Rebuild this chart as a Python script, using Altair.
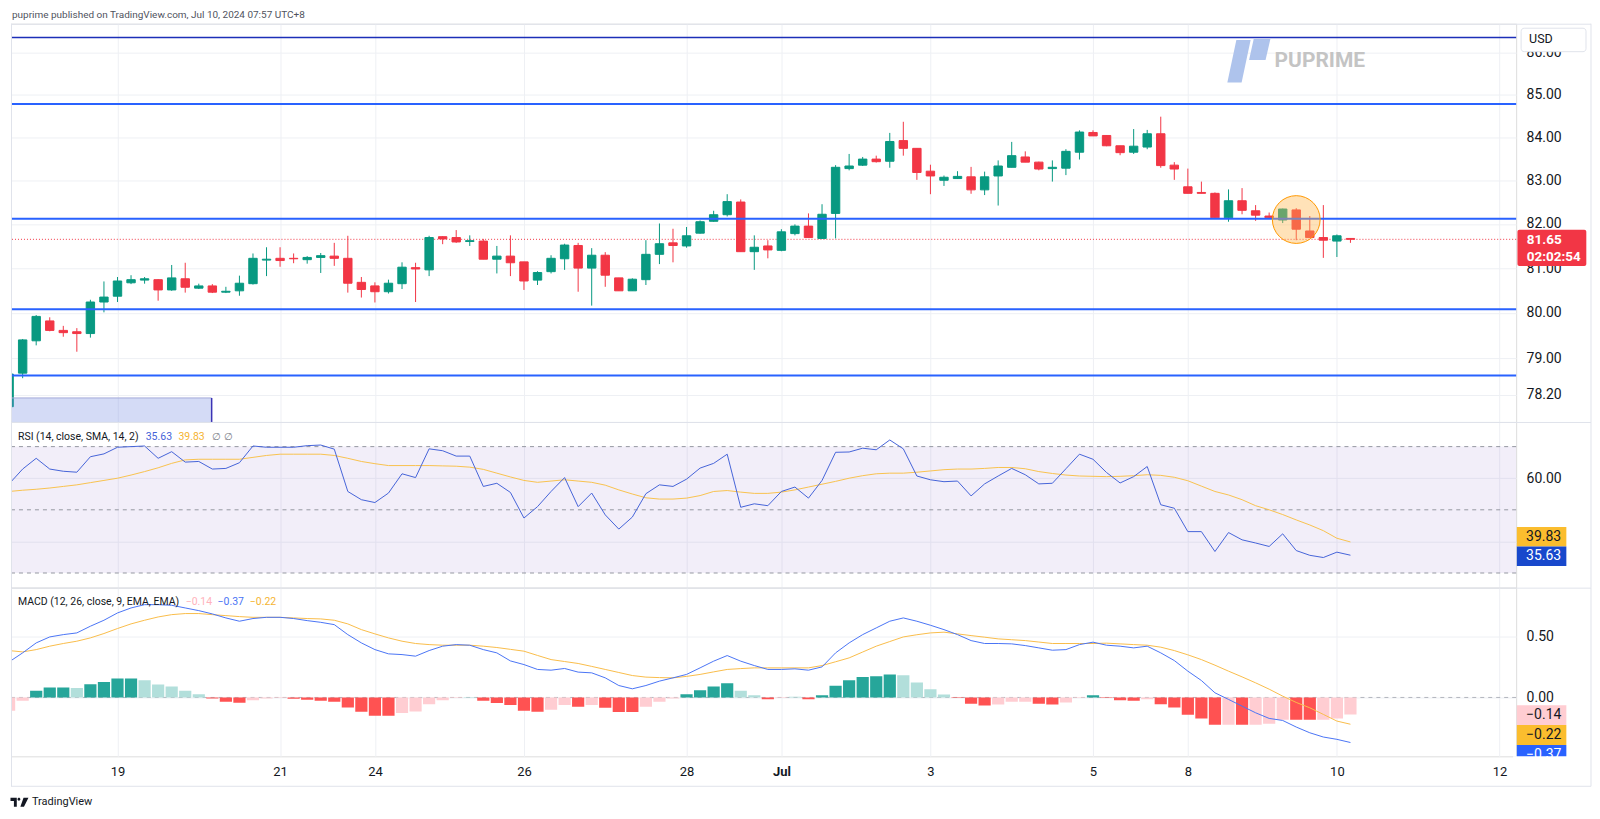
import json
import altair as alt
import pandas as pd

# ---------------- data (price axis is logarithmic) ----------------
opens = [77.94, 78.67, 79.38, 79.82, 79.61, 79.58, 79.54, 80.24, 80.37, 80.67,
 80.73, 80.74, 80.51, 80.76, 80.55, 80.60, 80.46, 80.49, 80.65, 81.18,
 81.22, 81.22, 81.19, 81.24, 81.27, 81.22, 80.68, 80.60, 80.47, 80.65,
 81.01, 80.96, 81.71, 81.69, 81.60, 81.61, 81.20, 81.27, 81.14, 80.73,
 80.92, 81.21, 81.51, 81.00, 81.29, 80.78, 80.49, 80.74, 81.31, 81.57,
 81.50, 81.79, 82.06, 82.21, 82.50, 81.37, 81.50, 81.40, 81.78, 81.95,
 81.67, 82.24, 83.27, 83.35, 83.49, 83.44, 83.92, 83.74, 83.21, 83.00,
 83.04, 83.08, 82.78, 83.10, 83.30, 83.54, 83.42, 83.27, 83.28, 83.65,
 84.11, 84.04, 83.80, 83.65, 83.77, 84.08, 83.35, 82.85, 82.72, 82.70,
 82.14, 82.53, 82.30, 82.18, 82.09, 82.32, 81.84, 81.69, 81.61, 81.67]
highs = [78.71, 79.42, 79.95, 79.90, 79.71, 79.66, 80.29, 80.70, 80.80, 80.84,
 80.80, 80.75, 81.07, 81.12, 80.65, 80.64, 80.58, 80.83, 81.33, 81.47,
 81.47, 81.33, 81.27, 81.34, 81.57, 81.73, 80.80, 80.68, 80.74, 81.13,
 81.12, 81.73, 81.72, 81.86, 81.74, 81.66, 81.50, 81.74, 81.14, 80.93,
 81.29, 81.55, 81.57, 81.45, 81.36, 80.78, 80.77, 81.63, 82.01, 81.89,
 81.93, 82.08, 82.30, 82.68, 82.56, 81.74, 81.63, 81.88, 81.99, 82.24,
 82.45, 83.35, 83.61, 83.54, 83.57, 84.10, 84.36, 83.74, 83.36, 83.11,
 83.21, 83.31, 83.20, 83.46, 83.89, 83.67, 83.43, 83.46, 83.72, 84.16,
 84.16, 84.05, 83.80, 84.19, 84.17, 84.48, 83.42, 83.27, 82.97, 82.72,
 82.79, 82.82, 82.43, 82.26, 82.35, 82.36, 82.18, 82.43, 81.76, 81.67]
lows = [77.89, 78.56, 79.28, 79.59, 79.47, 79.14, 79.45, 80.01, 80.24, 80.64,
 80.65, 80.27, 80.49, 80.45, 80.53, 80.44, 80.44, 80.38, 80.63, 80.82,
 81.03, 81.11, 81.10, 80.89, 81.05, 80.45, 80.34, 80.23, 80.43, 80.53,
 80.24, 80.82, 81.54, 81.57, 81.50, 81.20, 80.88, 80.82, 80.51, 80.62,
 80.88, 80.96, 80.47, 80.16, 80.58, 80.49, 80.49, 80.62, 81.09, 81.13,
 81.46, 81.78, 82.05, 82.17, 81.37, 80.96, 81.22, 81.38, 81.74, 81.69,
 81.66, 81.67, 83.23, 83.33, 83.41, 83.29, 83.57, 83.01, 82.68, 82.87,
 83.03, 82.69, 82.66, 82.42, 83.30, 83.42, 83.23, 82.97, 83.12, 83.48,
 84.03, 83.79, 83.58, 83.61, 83.72, 83.29, 83.01, 82.70, 82.70, 82.14,
 82.05, 82.22, 82.07, 82.13, 82.02, 81.63, 81.69, 81.23, 81.25, 81.57]
closes = [78.65, 79.40, 79.92, 79.61, 79.56, 79.54, 80.24, 80.35, 80.71, 80.74,
 80.76, 80.51, 80.78, 80.57, 80.60, 80.46, 80.48, 80.66, 81.22, 81.20,
 81.17, 81.21, 81.24, 81.28, 81.22, 80.66, 80.52, 80.47, 80.66, 81.02,
 80.98, 81.69, 81.66, 81.59, 81.62, 81.20, 81.27, 81.12, 80.71, 80.90,
 81.22, 81.52, 81.00, 81.29, 80.84, 80.49, 80.75, 81.31, 81.55, 81.51,
 81.73, 82.05, 82.21, 82.51, 81.37, 81.47, 81.41, 81.82, 81.95, 81.69,
 82.22, 83.30, 83.33, 83.49, 83.43, 83.90, 83.74, 83.18, 83.10, 83.07,
 83.09, 82.78, 83.08, 83.33, 83.57, 83.42, 83.26, 83.30, 83.67, 84.12,
 84.03, 83.80, 83.64, 83.79, 84.08, 83.34, 83.26, 82.70, 82.70, 82.14,
 82.53, 82.31, 82.20, 82.14, 82.34, 81.88, 81.69, 81.63, 81.73, 81.65]

rsi_vals = [58.2, 62.9, 66.3, 62.9, 62.2, 61.9, 66.8, 67.7, 69.8, 70.0,
 70.2, 66.3, 68.4, 65.1, 65.3, 62.9, 63.1, 64.9, 70.2, 69.8,
 69.8, 69.8, 70.3, 70.5, 69.2, 55.8, 53.2, 52.3, 55.3, 61.4,
 60.2, 69.3, 68.7, 67.0, 67.0, 57.4, 58.4, 55.5, 47.4, 51.0,
 55.8, 60.2, 51.0, 55.3, 48.4, 43.9, 47.7, 55.1, 57.9, 57.4,
 59.7, 63.2, 64.7, 67.6, 50.8, 51.9, 51.3, 55.8, 57.2, 53.7,
 59.3, 68.2, 68.3, 69.5, 69.0, 72.1, 69.3, 60.7, 59.5, 58.9,
 59.1, 54.4, 58.2, 60.7, 63.1, 61.1, 58.2, 58.4, 63.0, 67.6,
 66.0, 61.8, 58.5, 60.5, 63.7, 51.6, 50.5, 43.1, 43.1, 36.8,
 42.8, 40.5, 39.5, 38.4, 42.4, 37.1, 35.6, 34.9, 36.6, 35.63]
rsi_ma_vals = [55.8, 56.2, 56.5, 56.9, 57.4, 57.9, 58.6, 59.3, 60.0, 61.0,
 62.1, 63.3, 64.7, 65.8, 66.0, 66.0, 66.0, 66.0, 66.6, 67.2,
 67.6, 67.6, 67.6, 67.6, 67.2, 66.3, 65.3, 64.6, 64.0, 64.0,
 64.0, 64.0, 63.9, 63.8, 63.5, 62.8, 61.6, 60.4, 59.3, 58.7,
 59.1, 59.5, 59.1, 58.7, 57.8, 56.3, 55.0, 53.8, 53.4, 53.4,
 53.7, 54.5, 55.8, 56.1, 55.6, 55.2, 55.2, 55.6, 56.3, 57.2,
 58.1, 59.0, 60.0, 60.8, 61.4, 61.6, 61.6, 61.9, 62.3, 62.7,
 62.9, 62.9, 63.1, 63.4, 63.4, 63.0, 62.1, 61.5, 61.0, 60.7,
 60.6, 60.5, 60.6, 60.8, 61.1, 60.9, 60.3, 59.2, 57.5, 55.8,
 54.7, 53.2, 51.3, 50.0, 48.5, 46.8, 45.2, 43.4, 41.0, 39.83]

macd_vals = [0.292, 0.366, 0.448, 0.497, 0.516, 0.530, 0.585, 0.634, 0.694, 0.735,
 0.762, 0.762, 0.757, 0.735, 0.713, 0.686, 0.653, 0.626, 0.648, 0.658,
 0.658, 0.648, 0.631, 0.617, 0.598, 0.516, 0.448, 0.393, 0.358, 0.352,
 0.339, 0.385, 0.421, 0.434, 0.429, 0.393, 0.366, 0.300, 0.270, 0.230,
 0.224, 0.238, 0.208, 0.202, 0.161, 0.098, 0.071, 0.098, 0.134, 0.161,
 0.189, 0.243, 0.298, 0.344, 0.298, 0.262, 0.230, 0.230, 0.235, 0.224,
 0.251, 0.366, 0.448, 0.516, 0.571, 0.626, 0.653, 0.626, 0.593, 0.557,
 0.516, 0.467, 0.443, 0.443, 0.440, 0.426, 0.407, 0.388, 0.393, 0.434,
 0.454, 0.429, 0.421, 0.407, 0.421, 0.366, 0.303, 0.216, 0.139, 0.038,
 -0.016, -0.071, -0.126, -0.172, -0.189, -0.243, -0.290, -0.325, -0.344, -0.37]
signal_vals = [0.385, 0.374, 0.393, 0.421, 0.443, 0.462, 0.489, 0.525, 0.566, 0.604,
 0.634, 0.661, 0.680, 0.689, 0.689, 0.680, 0.672, 0.664, 0.658, 0.658,
 0.658, 0.653, 0.648, 0.645, 0.634, 0.604, 0.557, 0.522, 0.489, 0.462,
 0.443, 0.434, 0.429, 0.429, 0.429, 0.421, 0.410, 0.395, 0.380, 0.345,
 0.311, 0.295, 0.279, 0.255, 0.230, 0.205, 0.180, 0.167, 0.163, 0.161,
 0.173, 0.189, 0.210, 0.230, 0.237, 0.243, 0.243, 0.243, 0.243, 0.243,
 0.262, 0.293, 0.325, 0.373, 0.421, 0.459, 0.497, 0.515, 0.530, 0.536,
 0.522, 0.508, 0.495, 0.481, 0.474, 0.467, 0.455, 0.443, 0.443, 0.443,
 0.443, 0.446, 0.440, 0.434, 0.429, 0.413, 0.385, 0.350, 0.311, 0.265,
 0.216, 0.169, 0.120, 0.068, 0.011, -0.041, -0.085, -0.139, -0.194, -0.22]
hist_vals = [-0.110, -0.027, 0.055, 0.082, 0.082, 0.077, 0.109, 0.126, 0.156, 0.156,
 0.142, 0.107, 0.090, 0.055, 0.027, -0.008, -0.036, -0.044, -0.022, -0.008,
 -0.005, -0.010, -0.019, -0.027, -0.036, -0.082, -0.117, -0.150, -0.150, -0.128,
 -0.115, -0.055, -0.022, -0.005, 0.003, -0.027, -0.046, -0.063, -0.109, -0.117,
 -0.101, -0.063, -0.077, -0.063, -0.085, -0.120, -0.120, -0.077, -0.036, -0.008,
 0.027, 0.060, 0.090, 0.117, 0.055, 0.019, -0.014, -0.005, 0.005, -0.014,
 0.019, 0.096, 0.142, 0.167, 0.175, 0.188, 0.183, 0.123, 0.068, 0.025,
 -0.005, -0.052, -0.066, -0.057, -0.036, -0.036, -0.052, -0.057, -0.041, -0.005,
 0.019, -0.005, -0.022, -0.027, -0.014, -0.055, -0.082, -0.142, -0.172, -0.224,
 -0.224, -0.224, -0.224, -0.216, -0.183, -0.183, -0.183, -0.183, -0.172, -0.14]
# histogram tone: G strong up, g weak up, R strong down, r weak down
hist_tone = list("rrGGGgGGGG" "gggggRRRrr" "rRRRRRRRRr" "rrrrgRRRRR" "rrRrRRRrrr"
                 "GGGGggRrgR" "GGGGGGgggg" "RRRrrrRRrr" "GRRRrRRRRR" "rRrrrRRrrr")

tick_idx = [8, 20, 27, 38, 50, 57, 68, 80, 87, 98, 110]
tick_lbl = ["19", "21", "24", "26", "28", "Jul", "3", "5", "8", "10", "12"]
month_tick = 57
price_ticks = [78.2, 79, 80, 81, 82, 83, 84, 85, 86]
levels = [86.36, 84.78, 82.12, 80.08, 78.62]
last_price = 81.65
box_span = [-1.0, 14.95]
box_price = [77.0, 78.13]
hl_bar, hl_price = 95, 82.10
rsi_band = [30, 70]
rsi_levels = [70, 50, 30]

x_view = [0.14, 111.23]
main_view = [77.61, 86.69]
rsi_view = [25.36, 77.80]
macd_view = [-0.4836, 0.9016]

# ---------------- styling ----------------
FONT = "Roboto"
TXT = "#131722"
GRID = "#eef0f4"
FRAME = "#e0e3eb"
GREEN = "#089981"
RED = "#f23645"
W, H1, H2, H3, FW = 1508, 399, 166, 169, 1583

N = len(opens)
df = pd.DataFrame({
    "i": list(range(N)), "open": opens, "high": highs, "low": lows, "close": closes,
    "rsi": rsi_vals, "rsi_ma": rsi_ma_vals, "macd": macd_vals, "signal": signal_vals,
    "hist": hist_vals, "tone": hist_tone,
})
one = pd.DataFrame({"k": [0]})

XS = alt.Scale(domain=x_view, nice=False, zero=False)
ax_x_grid = alt.Axis(values=tick_idx, grid=True, gridColor=GRID, labels=False, ticks=False,
                     domain=False, title=None)
label_expr = f"{json.dumps(tick_lbl)}[indexof({json.dumps(tick_idx)}, datum.value)]"
ax_x_lab = alt.Axis(values=tick_idx, grid=True, gridColor=GRID, labelExpr=label_expr, ticks=False,
                    tickSize=0, domain=False, labelFontSize=13, labelColor=TXT, labelPadding=9,
                    labelFont=FONT, title=None, labelFlush=False, labelOverlap=False,
                    labelFontWeight={"condition": {"test": f"datum.value == {month_tick}",
                                                   "value": "bold"}, "value": "normal"})


def y_axis(values, fmt=None, expr=None):
    kw = dict(orient="right", values=values, grid=True, gridColor=GRID, ticks=False, tickSize=0,
              domain=False, labelFontSize=14, labelColor=TXT, labelPadding=10, labelFont=FONT,
              title=None, zindex=0, labelFlush=False, labelOverlap=False)
    if fmt:
        kw["format"] = fmt
    if expr:
        kw["labelExpr"] = expr
    return alt.Axis(**kw)


def xq(field, ax=ax_x_grid):
    return alt.X(f"{field}:Q", scale=XS, axis=ax, title=None)


def txt(t, x, y, size, color, weight="normal", align="left"):
    return alt.Chart(one).mark_text(text=t, align=align, baseline="middle", fontSize=size,
                                    color=color, fontWeight=weight, font=FONT).encode(
        x=alt.value(x), y=alt.value(y))


def rect(x1, x2, y1, y2, fill, stroke=None, radius=0):
    kw = dict(fill=fill)
    if stroke:
        kw["stroke"] = stroke
        kw["strokeWidth"] = 1
    if radius:
        kw["cornerRadius"] = radius
    return alt.Chart(one).mark_rect(**kw).encode(
        x=alt.value(x1), x2=alt.value(x2), y=alt.value(y1), y2=alt.value(y2))


def line(x1, x2, y1, y2, color=FRAME, width=1):
    return alt.Chart(one).mark_rule(color=color, strokeWidth=width).encode(
        x=alt.value(x1), x2=alt.value(x2), y=alt.value(y1), y2=alt.value(y2))


# ---------------- main price pane ----------------
YM = alt.Scale(type="log", domain=main_view, nice=False)
ax_price = y_axis(price_ticks, fmt=".2f")


def ym(f):
    return alt.Y(f"{f}:Q", scale=YM, axis=ax_price, title=None)


cc = alt.when(alt.datum.close >= alt.datum.open).then(alt.value(GREEN)).otherwise(alt.value(RED))

last = alt.Chart(pd.DataFrame({"p": [last_price]})).mark_rule(
    color=RED, strokeDash=[1, 2], strokeWidth=1).encode(y=ym("p"))
wicks = alt.Chart(df).mark_rule(clip=True, strokeWidth=1).encode(
    x=xq("i"), y=ym("low"), y2="high:Q", color=cc)
bodies = alt.Chart(df).transform_calculate(
    x0="datum.i - 0.31", x1="datum.i + 0.31").mark_bar(clip=True, strokeWidth=1).encode(
    x=xq("x0"), x2="x1:Q", y=ym("open"), y2="close:Q", color=cc, stroke=cc)

box_df = pd.DataFrame({"x0": [box_span[0]], "x1": [box_span[1]],
                       "y0": [box_price[0]], "y1": [box_price[1]]})
box = alt.Chart(box_df).mark_rect(clip=True, fill="#6f87e0", fillOpacity=0.3).encode(
    x=xq("x0"), x2="x1:Q", y=ym("y0"), y2="y1:Q")
box_top = alt.Chart(box_df).mark_rule(clip=True, color="#a3a9d9").encode(
    x=xq("x0"), x2="x1:Q", y=ym("y1"))
box_right = alt.Chart(box_df).mark_rule(clip=True, color="#3b33b5", strokeWidth=1.5).encode(
    x=xq("x1"), y=ym("y0"), y2="y1:Q")

lvl_df = pd.DataFrame({"p": levels})
lvl_top = alt.Chart(lvl_df.iloc[:1]).mark_rule(color="#1c2fb8", strokeWidth=1.5).encode(y=ym("p"))
lvl_rest = alt.Chart(lvl_df.iloc[1:]).mark_rule(color="#2962ff", strokeWidth=2).encode(y=ym("p"))

hl = alt.Chart(pd.DataFrame({"i": [hl_bar], "p": [hl_price]})).mark_point(
    shape="circle", size=2290, filled=True, fill="#ffb74d", fillOpacity=0.4,
    stroke="#ff9800", strokeWidth=1, strokeOpacity=1, opacity=1).encode(x=xq("i"), y=ym("p"))

LOGO = ("M-0.56,-0.94L0.09,-0.94L-0.32,0.99L-0.97,0.99Z "
        "M0.23,-0.99L0.99,-0.99L0.77,-0.03L0.02,-0.03Z")
logo = alt.Chart(one).mark_point(shape=LOGO, size=1936, filled=True, fill="#aec3ec",
                                 opacity=1, strokeWidth=0).encode(x=alt.value(1240), y=alt.value(37))

main = alt.layer(
    last, wicks, bodies, box, box_top, box_right, lvl_top, lvl_rest, hl,
    logo,
    txt("PUPRIME", 1266, 37.5, 21, "#c4c4c4", weight="bold"),
    txt("puprime published on TradingView.com, Jul 10, 2024 07:57 UTC+8", 1, -9, 10, "#50535e"),
    line(0, FW, 0.5, 0.5), line(0.5, 0.5, 0, H1), line(FW, FW, 0, H1),
    rect(1513, 1578, 4.5, 28, "white", stroke=FRAME, radius=3),
    txt("USD", 1521, 15.7, 12.5, TXT),
    rect(1509.3, 1578.3, 206.3, 242.7, RED, radius=2),
    txt("81.65", 1518.7, 217, 13.5, "white", weight="bold"),
    txt("02:02:54", 1518.7, 233.7, 13.5, "white", weight="bold"),
).properties(width=W, height=H1)

# ---------------- RSI pane ----------------
YR = alt.Scale(domain=rsi_view, nice=False, zero=False)
ax_rsi = y_axis([40, 60], expr="datum.value == 60 ? '60.00' : ''")


def yr(f):
    return alt.Y(f"{f}:Q", scale=YR, axis=ax_rsi, title=None)


band = alt.Chart(pd.DataFrame({"lo": [rsi_band[0]], "hi": [rsi_band[1]]})).mark_rect(
    fill="#7e57c2", fillOpacity=0.1).encode(x=alt.value(0), x2=alt.value(W), y=yr("lo"), y2="hi:Q")
dashes = alt.Chart(pd.DataFrame({"v": rsi_levels})).mark_rule(
    color="#9598a1", strokeDash=[4, 4], strokeWidth=1).encode(y=yr("v"))
ma_line = alt.Chart(df).mark_line(clip=True, color="#f8c24e", strokeWidth=1).encode(
    x=xq("i"), y=yr("rsi_ma"))
rsi_line = alt.Chart(df).mark_line(clip=True, color="#4563d8", strokeWidth=1).encode(
    x=xq("i"), y=yr("rsi"))

rsi = alt.layer(
    band, dashes, ma_line, rsi_line,
    line(0, FW, 0.5, 0.5), line(0.5, 0.5, 0, H2), line(FW, FW, 0, H2),
    txt("RSI (14, close, SMA, 14, 2)", 7, 15, 10.5, TXT),
    txt("35.63", 135, 15, 10.5, "#4563d8"),
    txt("39.83", 167.7, 15, 10.5, "#f5b432"),
    txt("∅", 201, 15, 10.5, "#787b86"),
    txt("∅", 213.7, 15, 10.5, "#787b86"),
    rect(1508.7, 1558.3, 105.3, 124.7, "#fbbd2e"),
    txt("39.83", 1518, 115, 14, TXT),
    rect(1508.7, 1558.3, 124.7, 144.3, "#1848cc"),
    txt("35.63", 1518, 134.5, 14, "white"),
).properties(width=W, height=H2)

# ---------------- MACD pane ----------------
YD = alt.Scale(domain=macd_view, nice=False, zero=False)
ax_macd = y_axis([0, 0.5], fmt=".2f")


def yd(f):
    return alt.Y(f"{f}:Q", scale=YD, axis=ax_macd, title=None)


zero = alt.Chart(pd.DataFrame({"v": [0]})).mark_rule(
    color="#b2b5be", strokeDash=[4, 4], strokeWidth=1).encode(y=yd("v"))
hist = alt.Chart(df).transform_calculate(
    x0="datum.i - 0.45", x1="datum.i + 0.45", z="0").mark_bar(clip=True).encode(
    x=xq("x0", ax_x_lab), x2="x1:Q", y=yd("hist"), y2="z:Q",
    color=alt.Color("tone:N", scale=alt.Scale(domain=["G", "g", "R", "r"],
                                              range=["#26a69a", "#b2dfdb", "#ff5252", "#ffcdd2"]),
                    legend=None))
sig_line = alt.Chart(df).mark_line(clip=True, color="#f9bd4a", strokeWidth=1).encode(
    x=xq("i", ax_x_lab), y=yd("signal"))
macd_line = alt.Chart(df).mark_line(clip=True, color="#4a74f5", strokeWidth=1).encode(
    x=xq("i", ax_x_lab), y=yd("macd"))

TV = ("M-1,-0.5L-0.3,-0.5L-0.3,0.5L-0.62,0.5L-0.62,-0.15L-1,-0.15Z "
      "M-0.22,-0.33A0.16,0.16 0 1,0 0.1,-0.33A0.16,0.16 0 1,0 -0.22,-0.33Z "
      "M0.45,-0.5L1,-0.5L0.5,0.5L0.1,0.5Z")
tv_logo = alt.Chart(one).mark_point(shape=TV, size=324, filled=True, fill=TXT, opacity=1,
                                    strokeWidth=0).encode(x=alt.value(8.5), y=alt.value(215))

macd = alt.layer(
    zero, hist, sig_line, macd_line,
    txt("MACD (12, 26, close, 9, EMA, EMA)", 7, 14, 10.5, TXT),
    txt("−0.14", 175, 14, 10.5, "#ffb3bc"),
    txt("−0.37", 207, 14, 10.5, "#4a74f5"),
    txt("−0.22", 239.3, 14, 10.5, "#f5b432"),
    rect(1508.7, 1558.3, 117.7, 137.7, "#ffcdd2"),
    txt("−0.14", 1518, 127.7, 14, TXT),
    rect(1508.7, 1558.3, 137.7, 157.7, "#fbbd2e"),
    txt("−0.22", 1518, 147.7, 14, TXT),
    rect(1508.7, 1558.3, 157.7, 177.7, "#2962ff"),
    txt("−0.37", 1518, 167.7, 14, "white"),
    rect(1505, 1582.5, 169, 198, "white"),
    line(0, FW, 0.5, 0.5), line(0.5, 0.5, 0, 199), line(FW, FW, 0, 199), line(0, FW, 199, 199),
    tv_logo,
    txt("TradingView", 21, 215, 11, TXT),
).properties(width=W, height=H3)

chart = alt.vconcat(main, rsi, macd, spacing=0, bounds="flush").properties(
    padding={"left": 1, "top": 0, "right": 0, "bottom": 0}, background="white"
).configure_view(stroke=None).configure(font=FONT)

chart.save("out.html", embed_options={"renderer": "svg", "actions": False})
